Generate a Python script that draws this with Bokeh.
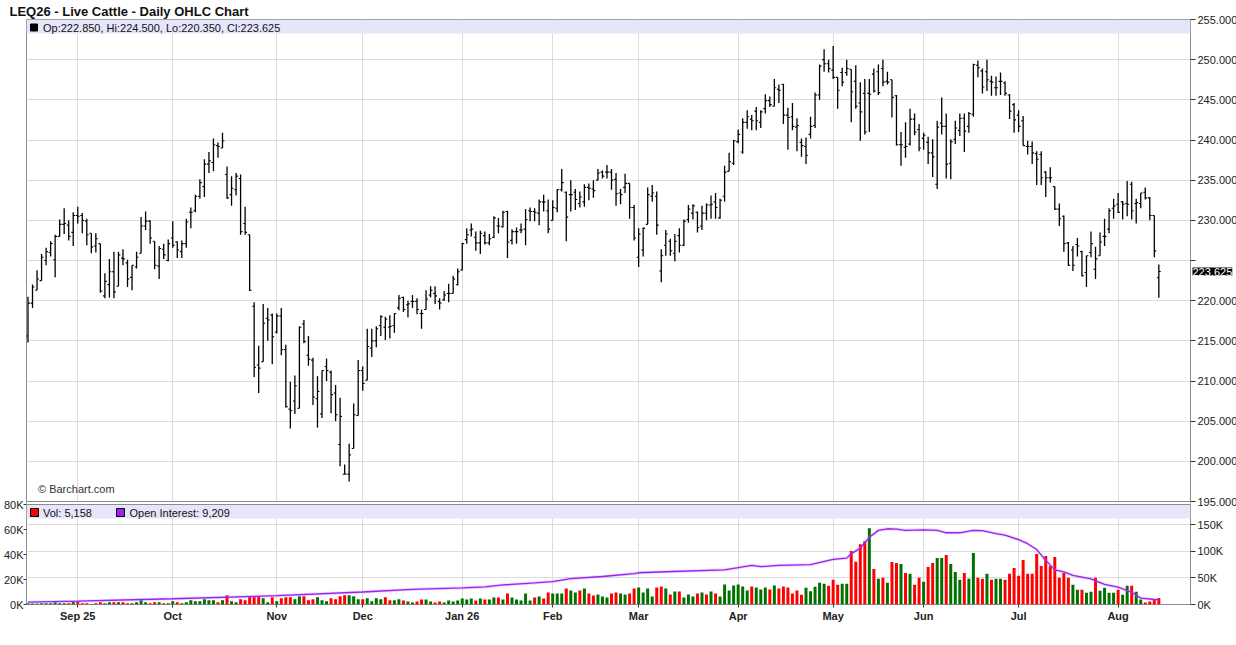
from bokeh.plotting import figure
from bokeh.models import Range1d, LinearAxis, FixedTicker, Span, BoxAnnotation, Label
from bokeh.embed import file_html
from bokeh.resources import INLINE

# ---------------- data ----------------
opens = [
    215.6, 219.7, 221.3, 222.5, 225.0, 226.0, 225.1, 228.0, 229.5, 229.4,
    228.5, 230.6, 230.6, 229.9, 228.4, 226.8, 227.1, 220.6, 222.0, 223.6,
    221.8, 225.3, 224.7, 222.9, 224.2, 225.9, 229.3, 229.9, 227.4, 224.3,
    226.4, 225.0, 227.8, 227.3, 226.1, 227.1, 231.0, 231.2, 233.0, 234.2,
    237.0, 237.2, 239.3, 239.0, 235.7, 233.2, 233.8, 235.2, 229.6, 228.2,
    219.3, 212.0, 212.4, 217.8, 218.2, 216.1, 218.1, 213.9, 206.5, 207.5,
    206.6, 217.1, 213.2, 212.6, 207.8, 205.9, 211.8, 211.1, 208.5, 202.1,
    198.4, 198.4, 201.6, 205.7, 211.3, 210.1, 214.1, 215.0, 216.9, 216.7,
    216.7, 216.9, 219.1, 220.4, 219.5, 219.9, 219.9, 218.4, 218.9, 220.7,
    220.9, 219.9, 220.1, 220.9, 220.9, 222.0, 223.8, 227.6, 228.8, 227.9,
    227.2, 228.1, 227.2, 227.9, 229.3, 229.2, 231.1, 227.5, 228.6, 228.8,
    228.9, 231.2, 231.1, 230.9, 232.3, 231.2, 230.0, 231.5, 233.8, 233.5,
    233.2, 233.5, 232.1, 232.3, 234.1, 233.9, 235.0, 236.0, 236.0, 236.0,
    235.1, 233.4, 234.1, 234.6, 231.6, 225.4, 226.3, 229.5, 233.0, 233.0,
    223.7, 226.9, 227.4, 225.9, 228.1, 226.9, 230.1, 230.9, 231.0, 229.3,
    230.9, 231.9, 232.3, 230.3, 233.0, 236.1, 237.1, 239.8, 238.5, 242.2,
    242.6, 243.6, 242.2, 243.9, 244.9, 244.2, 246.3, 246.9, 243.1, 242.9,
    241.6, 239.7, 239.2, 240.7, 241.8, 245.6, 250.0, 249.5, 248.7, 247.8,
    248.4, 248.4, 248.8, 247.3, 244.6, 245.8, 245.8, 248.2, 248.5, 248.9,
    247.3, 247.5, 245.5, 239.4, 239.1, 239.5, 242.6, 241.3, 240.2, 239.7,
    238.4, 234.5, 242.1, 241.7, 237.1, 240.1, 241.2, 242.7, 241.7, 243.2,
    249.3, 248.6, 248.5, 247.3, 246.5, 247.3, 247.1, 245.6, 244.4, 243.1,
    242.4, 239.2, 239.2, 238.3, 238.2, 236.0, 235.3, 234.2, 231.4, 230.5,
    227.2, 226.3, 227.0, 226.1, 223.5, 226.0, 223.9, 225.6, 228.0, 228.9,
    231.5, 232.0, 232.3, 232.1, 234.5, 232.1, 232.1, 233.5, 232.8, 230.6, 222.85,
]
highs = [
    220.5, 222.0, 223.8, 225.8, 226.6, 227.4, 228.2, 230.1, 231.5, 230.0,
    231.0, 231.7, 230.9, 230.2, 228.4, 228.4, 227.1, 223.4, 225.2, 226.1,
    226.1, 226.4, 225.1, 224.4, 226.1, 230.4, 231.1, 230.0, 227.4, 226.8,
    227.1, 227.6, 229.9, 227.4, 227.5, 230.2, 231.6, 233.2, 235.1, 237.6,
    238.5, 240.2, 239.7, 240.9, 236.7, 235.5, 235.9, 235.7, 231.7, 228.2,
    219.8, 214.4, 219.6, 219.1, 218.4, 218.4, 219.1, 214.5, 209.9, 210.7,
    216.8, 217.6, 215.6, 212.9, 210.6, 211.3, 212.8, 211.3, 209.5, 207.9,
    199.6, 202.2, 207.2, 212.6, 211.8, 216.5, 216.5, 216.8, 218.2, 218.0,
    218.2, 218.4, 220.7, 220.5, 220.0, 220.7, 220.3, 218.9, 221.3, 221.8,
    221.8, 220.3, 221.2, 222.1, 223.1, 224.0, 227.2, 229.0, 229.6, 228.6,
    228.7, 228.6, 228.3, 230.5, 230.3, 231.2, 231.2, 228.9, 229.1, 229.6,
    231.4, 231.6, 231.5, 232.6, 233.2, 232.6, 232.5, 233.9, 236.4, 233.6,
    235.0, 233.9, 233.6, 234.5, 234.6, 235.0, 236.4, 236.2, 236.9, 236.4,
    235.9, 233.9, 235.8, 234.6, 231.9, 229.0, 229.1, 234.1, 234.4, 233.6,
    226.4, 228.8, 227.7, 228.3, 229.0, 230.1, 231.9, 232.0, 231.1, 231.8,
    232.1, 233.1, 233.4, 232.7, 236.8, 238.4, 240.0, 241.3, 242.7, 243.7,
    243.1, 244.1, 243.7, 245.7, 245.4, 247.6, 246.9, 247.0, 244.0, 244.6,
    242.7, 240.2, 240.3, 242.9, 245.9, 249.4, 251.3, 250.0, 251.7, 247.8,
    249.0, 250.0, 248.8, 249.3, 247.2, 247.6, 247.6, 248.9, 249.4, 250.0,
    248.5, 247.5, 245.6, 241.0, 242.2, 243.9, 243.3, 242.0, 240.9, 240.4,
    240.1, 242.4, 245.3, 243.3, 240.1, 242.4, 243.3, 243.3, 243.5, 249.5,
    249.9, 248.9, 250.0, 248.0, 247.9, 248.4, 247.3, 245.7, 244.6, 243.7,
    243.0, 239.9, 239.8, 238.6, 238.6, 236.1, 236.6, 234.2, 232.1, 230.6,
    227.3, 226.8, 227.8, 226.2, 225.6, 228.6, 226.7, 228.5, 230.2, 231.5,
    232.7, 233.4, 232.4, 234.9, 234.8, 232.7, 233.4, 234.1, 232.9, 230.6, 224.5,
]
lows = [
    214.8, 219.1, 221.3, 222.5, 224.4, 225.5, 222.9, 228.0, 228.3, 227.5,
    226.8, 229.6, 228.4, 226.9, 225.9, 226.0, 221.0, 220.3, 220.4, 220.3,
    221.8, 224.4, 221.7, 221.3, 224.0, 225.9, 228.8, 227.1, 223.9, 222.7,
    225.2, 224.9, 226.6, 225.3, 225.3, 226.6, 229.0, 231.0, 232.7, 232.9,
    235.9, 236.1, 237.8, 239.0, 232.7, 231.8, 233.1, 228.2, 228.2, 221.2,
    210.5, 208.5, 212.4, 215.0, 212.1, 215.9, 213.2, 206.7, 204.1, 205.9,
    206.6, 214.7, 211.9, 207.0, 204.2, 205.4, 210.0, 206.0, 205.0, 199.4,
    198.4, 197.5, 201.6, 205.7, 208.8, 210.1, 213.0, 214.2, 215.6, 215.1,
    215.3, 216.0, 218.8, 218.6, 217.9, 219.1, 218.3, 216.5, 218.9, 220.4,
    219.6, 218.9, 220.0, 219.8, 220.9, 221.9, 223.8, 227.1, 228.0, 226.2,
    225.8, 227.0, 226.9, 227.8, 228.4, 229.1, 225.3, 227.0, 227.1, 228.4,
    226.9, 229.9, 229.9, 229.4, 231.1, 228.4, 230.0, 231.0, 233.6, 227.4,
    231.1, 231.3, 231.6, 231.7, 232.5, 232.8, 235.0, 235.2, 235.2, 233.8,
    231.8, 232.0, 233.4, 230.2, 227.5, 224.2, 225.5, 229.5, 232.3, 228.2,
    222.3, 225.6, 225.6, 224.9, 226.0, 226.8, 229.7, 230.1, 228.5, 228.8,
    230.0, 230.2, 230.2, 230.2, 232.3, 236.1, 236.9, 239.6, 238.3, 241.4,
    241.2, 241.2, 241.5, 243.3, 244.1, 244.2, 244.6, 242.0, 238.8, 241.2,
    238.6, 237.9, 237.0, 240.2, 241.5, 245.0, 248.5, 248.4, 247.6, 243.9,
    246.7, 248.0, 242.2, 243.9, 239.9, 240.7, 241.0, 245.9, 245.6, 246.7,
    246.9, 242.8, 239.3, 236.8, 237.8, 239.3, 240.6, 238.6, 238.8, 237.0,
    235.4, 233.9, 240.7, 235.2, 235.1, 239.5, 240.5, 238.5, 240.9, 242.9,
    247.8, 245.8, 246.1, 245.5, 245.5, 245.6, 245.5, 242.6, 240.9, 241.0,
    239.3, 238.2, 237.0, 234.4, 234.4, 232.9, 234.7, 231.3, 229.3, 226.1,
    224.3, 223.7, 225.5, 223.0, 221.7, 225.4, 222.7, 225.6, 226.8, 228.4,
    230.2, 230.9, 230.1, 230.5, 230.1, 229.6, 231.5, 232.6, 230.0, 225.4, 220.35,
]
closes = [
    219.7, 221.7, 222.7, 225.4, 226.1, 227.1, 228.0, 229.5, 229.6, 228.0,
    230.6, 230.5, 230.0, 228.2, 226.7, 227.7, 221.2, 222.4, 223.6, 221.1,
    225.7, 225.2, 222.7, 224.4, 225.4, 229.3, 229.9, 227.8, 224.4, 226.5,
    225.7, 227.1, 226.9, 226.3, 227.1, 229.8, 231.0, 233.0, 234.7, 237.0,
    237.4, 239.4, 239.2, 239.9, 232.8, 234.0, 235.5, 228.6, 228.5, 221.3,
    211.7, 211.6, 217.2, 217.6, 215.5, 218.1, 213.9, 206.8, 206.3, 209.4,
    216.7, 214.9, 212.7, 208.0, 208.7, 211.3, 211.3, 208.3, 205.8, 205.6,
    198.4, 200.8, 205.8, 211.3, 209.7, 214.3, 215.0, 216.5, 218.0, 217.7,
    216.8, 218.4, 220.3, 218.9, 219.6, 219.9, 218.9, 218.4, 220.2, 221.3,
    220.6, 219.7, 220.7, 220.9, 222.7, 223.6, 227.1, 228.2, 228.9, 227.2,
    228.4, 227.2, 227.7, 230.3, 229.3, 231.0, 227.3, 228.6, 228.6, 228.8,
    230.1, 231.1, 231.0, 232.3, 232.3, 228.9, 231.6, 233.8, 234.7, 230.4,
    233.2, 232.6, 232.9, 234.1, 234.0, 233.7, 235.9, 235.5, 236.0, 235.0,
    233.3, 233.2, 234.6, 231.6, 227.8, 228.3, 229.0, 233.2, 233.4, 229.4,
    225.6, 228.3, 226.2, 227.4, 226.9, 229.9, 231.4, 231.8, 229.1, 230.9,
    231.9, 232.0, 231.6, 232.5, 236.0, 237.3, 239.9, 240.7, 242.2, 242.9,
    242.4, 242.4, 243.5, 244.9, 244.4, 246.5, 246.2, 243.1, 242.8, 241.7,
    241.8, 239.3, 238.1, 241.7, 245.6, 249.2, 249.5, 248.9, 247.8, 246.2,
    247.2, 248.9, 246.0, 244.2, 243.5, 241.0, 245.7, 246.1, 245.9, 247.2,
    247.2, 245.3, 239.4, 239.4, 239.2, 242.6, 241.0, 239.0, 240.6, 238.4,
    237.9, 241.6, 241.7, 237.0, 239.8, 241.5, 242.7, 241.1, 243.3, 249.4,
    249.0, 246.6, 247.5, 247.2, 246.5, 247.3, 245.8, 243.6, 242.5, 241.7,
    239.3, 239.2, 238.4, 237.6, 235.3, 235.3, 235.3, 231.4, 230.2, 227.1,
    224.4, 224.4, 226.8, 223.1, 225.6, 227.1, 225.2, 227.3, 228.0, 231.2,
    231.8, 231.0, 232.0, 232.0, 231.2, 232.2, 233.4, 232.8, 230.6, 226.2, 223.625,
]
# volume in thousands of contracts
volume_k = [
    1.0, 0.8, 0.8, 1.1, 1.1, 1.1, 1.9, 1.1, 1.1, 1.1,
    2.7, 2.7, 1.1, 1.1, 0.5, 1.1, 1.9, 1.1, 1.9, 1.9,
    1.9, 1.9, 1.1, 1.1, 1.9, 3.5, 1.9, 1.1, 1.9, 1.9,
    1.1, 1.1, 2.7, 1.9, 1.1, 1.9, 3.5, 2.7, 2.7, 4.3,
    3.5, 3.5, 1.9, 3.5, 7.5, 2.7, 1.9, 4.3, 3.5, 6.1,
    6.7, 6.7, 5.1, 1.9, 5.9, 2.7, 5.1, 5.9, 5.9, 4.3,
    6.7, 6.7, 3.5, 4.3, 5.9, 3.5, 2.7, 5.1, 4.3, 6.7,
    7.5, 7.5, 6.7, 4.3, 4.3, 5.1, 2.7, 5.1, 4.3, 5.9,
    3.5, 3.5, 4.3, 3.2, 2.4, 1.6, 2.4, 4.0, 4.0, 2.4,
    1.6, 2.4, 1.6, 3.2, 2.4, 3.2, 4.8, 4.0, 4.8, 3.2,
    4.8, 4.0, 4.0, 5.6, 5.6, 4.0, 8.8, 5.6, 4.0, 3.2,
    8.8, 3.2, 5.6, 6.4, 4.8, 9.6, 8.8, 8.8, 8.8, 12.8,
    11.2, 9.6, 11.2, 12.8, 8.8, 7.2, 8.0, 6.4, 5.6, 8.8,
    9.6, 8.8, 8.0, 8.8, 12.8, 13.6, 9.6, 12.8, 6.4, 13.6,
    14.4, 12.8, 8.0, 10.4, 10.4, 5.6, 8.0, 6.4, 8.8, 9.6,
    8.0, 10.4, 8.8, 6.4, 16.0, 11.2, 15.2, 16.0, 14.4, 11.2,
    14.4, 13.6, 12.0, 13.6, 12.0, 15.2, 12.8, 14.4, 13.6, 8.8,
    11.2, 7.9, 13.5, 10.6, 14.3, 17.4, 16.6, 15.0, 19.8, 15.8,
    16.6, 16.6, 42.8, 34.3, 48.3, 50.7, 61.0, 28.5, 20.6, 21.4,
    17.4, 34.1, 33.3, 32.5, 25.3, 24.6, 15.8, 21.4, 18.2, 30.1,
    33.3, 37.2, 37.2, 39.6, 32.5, 26.1, 19.8, 25.3, 20.6, 41.2,
    21.4, 20.6, 24.6, 19.8, 20.6, 20.6, 19.8, 24.6, 29.3, 23.0,
    35.6, 24.6, 24.6, 40.4, 30.9, 38.8, 30.9, 38.0, 21.4, 25.3,
    21.4, 15.8, 11.9, 11.9, 9.5, 10.3, 21.4, 11.1, 13.5, 9.5,
    9.5, 11.9, 7.9, 15.0, 15.0, 10.3, 4.0, 1.6, 2.4, 4.0, 5.158,
]
# G = up day (green bar), R = down day (red bar)
vol_direction = (
    "GGGGGGGGGR" "GRRRRGRGGR" "GRRGGGGRRG" "RGGRGGGGGG" "GGRGRGGRRR"
    "RRGGRGRRRG" "GRRRGGGRRR" "RGGGRGGGGR" "RGGRG"
    "GRRGG" "RRGGGGGGGR" "GRGGRGRGGG" "GGRGRRGGGR" "GGRGRRGGGR"
    "RGGRRGGGGR" "RGRGRGGGRG" "RGRGGGGGGG" "RGGGRGRRRRR"
    "RGGGGGRRR" "GGRRRRGRGR" "GRRGRGRRGR" "RGGRGGGRGG" "RRGRGGRRRR"
    "RRRRRRRRRR" "RGGRGGRGGG" "GRGGRGGRRRR"
)
# open interest (thousands) read at these bar positions
oi_index = [0, 11, 32, 55, 74, 85, 96, 101, 105, 112, 116, 120, 127, 134, 135, 141,
            154, 157, 160, 162, 166, 173, 178, 181, 182, 184, 186, 188, 190, 192,
            194, 198, 201, 203, 206, 209, 211, 214, 216, 219, 221, 223, 225, 227,
            229, 231, 235, 238, 241, 244, 246, 249, 250]
oi_k = [4.4, 6.3, 10.8, 16.5, 23.4, 28.5, 31.0, 33.0, 36.7, 40.5, 43.0, 48.7, 52.5,
        58.0, 59.5, 61.4, 65.0, 69.0, 73.4, 71.0, 73.4, 74.7, 84.6, 87.0, 95.0,
        106.0, 126.0, 139.0, 142.0, 141.5, 139.0, 140.0, 139.0, 134.5, 134.5,
        139.0, 138.5, 133.0, 130.0, 121.6, 114.0, 103.0, 82.8, 65.0, 61.0, 54.5,
        48.0, 37.6, 32.6, 23.0, 12.0, 9.4, 9.209]

month_index = [11, 32, 55, 74, 96, 116, 135, 157, 178, 198, 219, 241]
month_labels = ["Sep 25", "Oct", "Nov", "Dec", "Jan 26", "Feb", "Mar", "Apr",
                "May", "Jun", "Jul", "Aug"]
price_ticks = [195, 200, 205, 210, 215, 220, 225, 230, 235, 240, 245, 250, 255]
vol_ticks = [0, 20, 40, 60, 80]
oi_ticks = [0, 50, 100, 150]

# ---------------- layout / style constants ----------------
FONT = "Liberation Sans"
FRAME_W = 1164
PRICE_H = 482          # px for the price panel (195..255)
GAP_H = 3              # px between the two panels
VOL_H = 100            # px for 0..80K volume
OI150_H = 80           # px for 150K open interest
FRAME_H = PRICE_H + GAP_H + VOL_H
PRICE_TOP, PRICE_BOT = 255.0, 195.0
px_per_price = PRICE_H / (PRICE_TOP - PRICE_BOT)
price_start = PRICE_TOP - FRAME_H / px_per_price
vol_end = 80.0 * FRAME_H / VOL_H
oi_end = 150.0 * FRAME_H / OI150_H
X_START, X_END = -0.33, 257.0
GRID = "#dcdcdc"
BORDER = "#8c8c8c"
BAND = "#e6e6fa"
UP, DOWN = "#007000", "#ff0000"


def sx(px):
    return X_START + px * (X_END - X_START) / FRAME_W


def sy(px):
    return PRICE_TOP - px / px_per_price


def oi_to_price(v):
    return price_start + v / oi_end * (PRICE_TOP - price_start)


n = len(closes)
idx = list(range(n))

p = figure(frame_width=FRAME_W, frame_height=FRAME_H,
           x_range=Range1d(X_START, X_END), y_range=Range1d(price_start, PRICE_TOP),
           y_axis_location="right", output_backend="svg", toolbar_location=None,
           min_border_left=22, min_border_right=46, min_border_top=0, min_border_bottom=0,
           title="LEQ26 - Live Cattle - Daily OHLC Chart")
p.extra_y_ranges = {"vol": Range1d(0, vol_end), "oi": Range1d(0, oi_end)}
p.background_fill_color = "white"
p.border_fill_color = "white"
p.outline_line_color = BORDER
p.outline_line_width = 1

p.title.text_font = FONT
p.title.text_font_size = "13px"
p.title.text_font_style = "bold"
p.title.text_color = "#111111"
p.title.align = "left"
p.title.offset = -17
p.title.standoff = 2

# right (price + open interest) axis
ry = p.yaxis[0]
right_ticks = [float(t) for t in price_ticks] + [oi_to_price(t) for t in oi_ticks]
overrides = {float(t): ("" if t == 225 else f"{t:.3f}") for t in price_ticks}
for t in oi_ticks:
    overrides[oi_to_price(t)] = f"{t}K"
ry.ticker = FixedTicker(ticks=right_ticks)
ry.major_label_overrides = overrides
ry.axis_line_color = None
ry.major_tick_out = 5
ry.major_tick_in = 0
ry.major_tick_line_color = "#333333"
ry.minor_tick_line_color = None
ry.major_label_standoff = 2
ry.major_label_text_font = FONT
ry.major_label_text_font_size = "11px"
ry.major_label_text_color = "#222222"

# left (volume) axis
ly = LinearAxis(y_range_name="vol", ticker=FixedTicker(ticks=vol_ticks),
                major_label_overrides={t: f"{t}K" for t in vol_ticks})
ly.axis_line_color = None
ly.major_tick_out = 3
ly.major_tick_in = 0
ly.major_tick_line_color = "#333333"
ly.minor_tick_line_color = None
ly.major_label_standoff = 0
ly.major_label_text_font = FONT
ly.major_label_text_font_size = "11px"
ly.major_label_text_color = "#222222"
p.add_layout(ly, "left")

# x axis
xa = p.xaxis[0]
xa.ticker = FixedTicker(ticks=month_index)
xa.major_label_overrides = {i: lab for i, lab in zip(month_index, month_labels)}
xa.axis_line_color = None
xa.major_tick_out = 3
xa.major_tick_in = 0
xa.major_tick_line_color = "#333333"
xa.minor_tick_line_color = None
xa.major_label_standoff = 2
xa.major_label_text_font = FONT
xa.major_label_text_font_size = "11px"
xa.major_label_text_font_style = "bold"
xa.major_label_text_color = "#222222"

# grids
p.xgrid.ticker = FixedTicker(ticks=month_index)
p.ygrid.ticker = FixedTicker(ticks=[float(t) for t in price_ticks] +
                             [oi_to_price(t) for t in oi_ticks if t > 0])
p.xgrid.grid_line_color = GRID
p.ygrid.grid_line_color = GRID
p.xgrid.grid_line_width = 1
p.ygrid.grid_line_width = 1

# legend bands (drawn under the glyphs, over the grid)
p.add_layout(BoxAnnotation(top=PRICE_TOP, bottom=sy(14), fill_color=BAND, fill_alpha=1,
                           line_color=None, level="underlay"))
p.add_layout(BoxAnnotation(top=80, bottom=80 - 14 * 80.0 / VOL_H, y_range_name="vol",
                           fill_color=BAND, fill_alpha=1, line_color=None,
                           level="underlay"))

# OHLC bars
p.segment(x0=idx, y0=lows, x1=idx, y1=highs, line_color="black", line_width=1.3)
p.segment(x0=[i - 0.42 for i in idx], y0=opens, x1=idx, y1=opens,
          line_color="black", line_width=1.1)
p.segment(x0=idx, y0=closes, x1=[i + 0.42 for i in idx], y1=closes,
          line_color="black", line_width=1.1)

# volume bars and open interest
colors = [UP if d == "G" else DOWN for d in vol_direction]
p.vbar(x=idx, top=volume_k, bottom=0, width=0.66, y_range_name="vol",
       fill_color=colors, line_color=None)
p.line(oi_index, oi_k, y_range_name="oi", line_color="#b070ff", line_width=3,
       line_alpha=0.3)
p.line(oi_index, oi_k, y_range_name="oi", line_color="#a020f0", line_width=1.3)

# panel separation
p.add_layout(BoxAnnotation(top=PRICE_BOT, bottom=PRICE_BOT - GAP_H / px_per_price,
                           fill_color="white", fill_alpha=1, line_color=None))
p.add_layout(Span(location=PRICE_BOT, dimension="width", line_color=BORDER, line_width=1))
p.add_layout(Span(location=80, dimension="width", y_range_name="vol",
                  line_color=BORDER, line_width=1))

band_vol_y = 80 - 8 * 80.0 / VOL_H
p.scatter([sx(7.5)], [sy(8)], marker="square", size=7, fill_color="black",
          line_color="black")
p.scatter([sx(8)], [band_vol_y], y_range_name="vol", marker="square", size=8,
          fill_color=DOWN, line_color="black")
p.scatter([sx(94)], [band_vol_y], y_range_name="vol", marker="square", size=8,
          fill_color="#a020f0", line_color="black")

txt = dict(text_font=FONT, text_font_size="11px", text_color="#111111",
           text_baseline="middle")
p.add_layout(Label(x=sx(16.5), y=sy(8),
                   text=f"Op:{opens[-1]:.3f}, Hi:{highs[-1]:.3f}, Lo:{lows[-1]:.3f}, Cl:{closes[-1]:.3f}",
                   **txt))
p.add_layout(Label(x=sx(16.5), y=band_vol_y, y_range_name="vol",
                   text=f"Vol: {round(volume_k[-1] * 1000):,}", **txt))
p.add_layout(Label(x=sx(103), y=band_vol_y, y_range_name="vol",
                   text=f"Open Interest: {round(oi_k[-1] * 1000):,}", **txt))
p.add_layout(Label(x=sx(11.5), y=sy(469), text="\u00a9 Barchart.com",
                   text_font=FONT, text_font_size="11px", text_color="#333333",
                   text_baseline="middle"))

# last price marker, placed in the right side panel so it is not clipped to the frame
p.add_layout(Label(x=X_END, y=closes[-1], x_offset=2, text=f"{closes[-1]:.3f}",
                   text_font=FONT, text_font_size="11px", text_color="white",
                   text_baseline="middle", background_fill_color="black",
                   background_fill_alpha=1, padding=0), "right")

open("out.html", "w").write(file_html(p, INLINE))
